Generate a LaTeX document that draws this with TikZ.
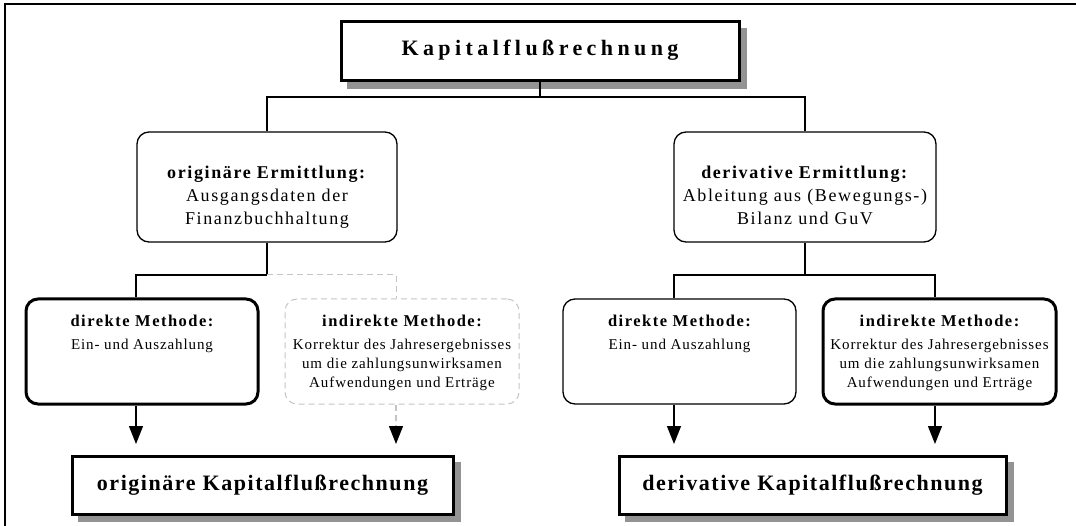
\documentclass[tikz,border=0pt]{standalone}
\usepackage{fontspec}
\setmainfont{Liberation Serif}
\newfontfamily\fTitle[LetterSpace=20,Ligatures=NoCommon]{Liberation Serif}
\newfontfamily\fMid[LetterSpace=9,Ligatures=NoCommon]{Liberation Serif}
\newfontfamily\fSmall[LetterSpace=6,Ligatures=NoCommon]{Liberation Serif}
\newfontfamily\fHead[LetterSpace=9,Ligatures=NoCommon]{Liberation Serif}
\newfontfamily\fBig[LetterSpace=7,Ligatures=NoCommon]{Liberation Serif}
\usetikzlibrary{arrows.meta,calc}
\definecolor{shadowgray}{HTML}{939393}
\definecolor{ghostgray}{HTML}{C4C4C4}
\begin{document}
\begin{tikzpicture}[x=1pt,y=-1pt,
  shadowbox/.style={draw, line width=3pt, fill=white, inner sep=0pt},
  shadownode/.style={fill=shadowgray, draw=none, inner sep=0pt},
  thinbox/.style={draw, line width=1.3pt, rounded corners=12pt, inner sep=0pt, fill=white},
  thickbox/.style={draw, line width=3pt, rounded corners=12pt, inner sep=0pt, fill=white},
  ghostbox/.style={draw=ghostgray, line width=1pt, dash pattern=on 6pt off 4pt, rounded corners=12pt, inner sep=0pt},
  conn/.style={line width=1.3pt},
  ghost/.style={draw=ghostgray, line width=1pt, dash pattern=on 6pt off 4pt},
  arr/.style={line width=1.3pt, -{Triangle[length=18pt,width=14pt,black]}},
  titletext/.style={anchor=base, inner sep=0pt, font=\fTitle\bfseries\fontsize{22}{26}\selectfont},
  bigtext/.style={anchor=base, inner sep=0pt, font=\fBig\bfseries\fontsize{22}{26}\selectfont},
  midtext/.style={anchor=north, align=center, inner sep=0pt, font=\fMid\fontsize{18}{23}\selectfont},
  headtext/.style={anchor=base, inner sep=0pt, font=\fHead\bfseries\fontsize{16.5}{19}\selectfont},
  bodytext/.style={anchor=north, align=center, inner sep=0pt, font=\fSmall\fontsize{15}{19}\selectfont},
]
\useasboundingbox (0,0) rectangle (1076,526);
% outer frame (only top and left edges visible)
\coordinate (fbl) at (5,526);
\coordinate (ftl) at (5,4);
\coordinate (ftr) at (1076,4);
\draw[line width=1.5pt] (fbl) -- (ftl) -- (ftr);

% top box with shadow
\node[shadownode, minimum width=400pt, minimum height=61pt] (topsh) at (547,58.5) {};
\node[shadowbox, minimum width=398pt, minimum height=59pt] (top) at (540,51.5) {};
\node[titletext] (toptxt) at (540,56) {Kapitalflußrechnung};

% middle boxes
\node[thinbox, minimum width=260pt, minimum height=110pt] (m1) at (267,187) {};
\node[midtext] (m1txt) at (267,165.5) {\textbf{originäre Ermittlung:}\\Ausgangsdaten der\\Finanzbuchhaltung};
\node[thinbox, minimum width=262pt, minimum height=110pt] (m2) at (805,187) {};
\node[midtext] (m2txt) at (805,165.5) {\textbf{derivative Ermittlung:}\\Ableitung aus (Bewegungs-)\\Bilanz und GuV};

% level 3 boxes
\node[thickbox, minimum width=232pt, minimum height=105pt] (d1) at (142,351.5) {};
\node[ghostbox, minimum width=234pt, minimum height=105pt] (i1) at (402,351.5) {};
\node[thinbox, minimum width=233pt, minimum height=105pt] (d2) at (679.5,351.5) {};
\node[thickbox, minimum width=233pt, minimum height=105pt] (i2) at (939.5,351.5) {};

\node[headtext] (d1h) at (142,327) {direkte Methode:};
\node[bodytext] (d1b) at (142,338.5) {Ein- und Auszahlung};
\node[headtext] (i1h) at (402,327) {indirekte Methode:};
\node[bodytext] (i1b) at (402,338.5) {Korrektur des Jahresergebnisses\\um die zahlungsunwirksamen\\Aufwendungen und Erträge};
\node[headtext] (d2h) at (679.5,327) {direkte Methode:};
\node[bodytext] (d2b) at (679.5,338.5) {Ein- und Auszahlung};
\node[headtext] (i2h) at (939.5,327) {indirekte Methode:};
\node[bodytext] (i2b) at (939.5,338.5) {Korrektur des Jahresergebnisses\\um die zahlungsunwirksamen\\Aufwendungen und Erträge};

% bottom boxes with shadows
\node[shadownode, minimum width=383pt, minimum height=60pt] (b1sh) at (269.5,492) {};
\node[shadowbox, minimum width=381pt, minimum height=58pt] (b1) at (262.5,485) {};
\node[bigtext] (b1txt) at (262.5,490) {originäre Kapitalflußrechnung};
\node[shadownode, minimum width=389pt, minimum height=60pt] (b2sh) at (819.5,492) {};
\node[shadowbox, minimum width=387pt, minimum height=58pt] (b2) at (812.5,485) {};
\node[bigtext] (b2txt) at (812.5,490) {derivative Kapitalflußrechnung};

% helper coordinates
\coordinate (bus1) at (0,97);
\coordinate (bus2) at (0,275);
\coordinate (tip) at (0,444);
\coordinate (x1) at (136,0);
\coordinate (x2) at (396,0);
\coordinate (x3) at (674,0);
\coordinate (x4) at (935,0);

% connectors level 1 -> 2
\draw[conn] (top.south) -- (top.south |- bus1);
\draw[conn] (m1.north) -- (m1.north |- bus1) -- (m2.north |- bus1) -- (m2.north);

% connectors level 2 -> 3 (left)
\draw[conn] (m1.south) -- (m1.south |- bus2);
\draw[conn] (m1.south |- bus2) -- (x1 |- bus2) -- (x1 |- d1.north);
\draw[ghost] (m1.south |- bus2) -- (x2 |- bus2) -- (x2 |- i1.north);

% connectors level 2 -> 3 (right)
\draw[conn] (m2.south) -- (m2.south |- bus2);
\draw[conn] (x3 |- d2.north) -- (x3 |- bus2) -- (x4 |- bus2) -- (x4 |- i2.north);

% arrows
\draw[arr] (x1 |- d1.south) -- (x1 |- tip);
\draw[arr, draw=ghostgray, dash pattern=on 6pt off 4pt] (x2 |- i1.south) -- (x2 |- tip);
\draw[arr] (x3 |- d2.south) -- (x3 |- tip);
\draw[arr] (x4 |- i2.south) -- (x4 |- tip);
\end{tikzpicture}
\end{document}
